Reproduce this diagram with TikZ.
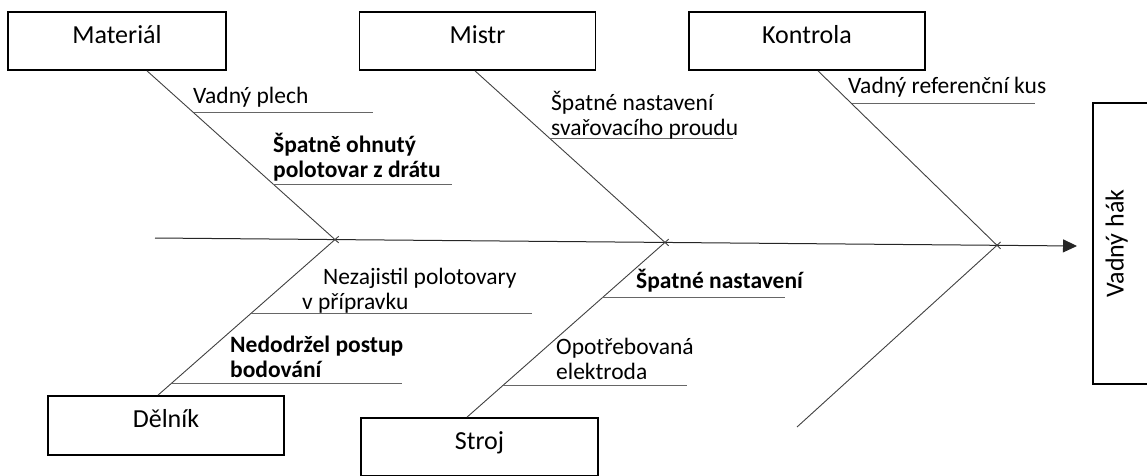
\documentclass[tikz,border=0pt]{standalone}
\usepackage{fontspec}
\setmainfont{Carlito}
\usetikzlibrary{arrows.meta,calc}
\begin{document}
\begin{tikzpicture}[x=1pt,y=-1pt,
  cat/.style={draw=black, line width=1.7pt, minimum width=236pt, minimum height=58pt,
    inner sep=0pt, font=\fontsize{26}{30}\selectfont, text height=14pt, text depth=10pt},
  bone/.style={draw=black!75, line width=0.9pt, shorten >=-5pt},
  spine/.style={draw=black!85, line width=1pt},
  sub/.style={draw=black!60, line width=1.3pt},
  cause/.style={anchor=base west, inner sep=0pt, align=left, font=\fontsize{23.5}{25}\selectfont},
  key/.style={cause, font=\fontsize{23.5}{25}\selectfont\bfseries},
]
\useasboundingbox (0,0) rectangle (1147,475);
\clip (0,0) rectangle (1147,475);

% category boxes
\node[cat, minimum width=218pt] (mat) at (117,41) {Materiál};
\node[cat] (mis) at (477.5,41) {Mistr};
\node[cat] (kon) at (807,41) {Kontrola};
\node[cat, minimum height=59pt] (del) at (166,425.5) {Dělník};
\node[cat, minimum width=237pt] (str) at (479.5,447) {Stroj};
\node[cat, minimum width=281pt, minimum height=57pt, rotate=90] (vh) at (1121.5,243.5) {Vadný hák};

% spine with arrow head
\coordinate (tail) at (155,238);
\coordinate (head) at (1077,246);
\draw[spine, -{Triangle[length=14pt,width=13pt]}] (tail) -- (head);
\coordinate (J1) at ($(tail)!0.1952!(head)$);
\coordinate (J2) at ($(tail)!0.5531!(head)$);
\coordinate (J3) at ($(tail)!0.9132!(head)$);

% main bones
\coordinate (matB) at ([xshift=30pt]mat.south);
\coordinate (misB) at ([xshift=-2.5pt]mis.south);
\coordinate (konB) at ([xshift=11pt]kon.south);
\coordinate (delB) at ([xshift=-8pt]del.north);
\coordinate (strB) at ([xshift=-12.5pt]str.north);
\coordinate (loose) at (797,427);
\draw[bone] (matB) -- (J1);
\draw[bone] (misB) -- (J2);
\draw[bone] (konB) -- (J3);
\draw[bone] (delB) -- (J1);
\draw[bone] (strB) -- (J2);
\draw[bone] (loose) -- (J3);

% cause lines
\draw[sub] ($(matB)!0.248!(J1)$) -- ++(179,0);
\draw[sub] ($(matB)!0.672!(J1)$) -- ++(179,0);
\draw[sub] ($(misB)!0.394!(J2)$) -- ++(183,0);
\draw[sub] ($(konB)!0.188!(J3)$) -- ++(183,0);
\draw[sub] ($(delB)!0.524!(J1)$) -- ++(281,0);
\draw[sub] ($(delB)!0.0767!(J1)$) -- ++(230,0);
\draw[sub] ($(strB)!0.683!(J2)$) -- ++(183,0);
\draw[sub] ($(strB)!0.182!(J2)$) -- ++(184,0);

% cause texts (multi-line nodes sit on their last baseline)
\node[cause] (c1) at (193,103) {Vadný plech};
\node[key] (c2) at (273,177) {Špatně ohnutý\\polotovar z drátu};
\node[cause] (c3) at (551,135) {Špatné nastavení\\svařovacího proudu};
\node[cause] (c4) at (848,93) {Vadný referenční kus};
\node[cause] (c5) at (302,309) {\hspace*{21pt}Nezajistil polotovary\\v přípravku};
\node[key] (c6) at (230,377) {Nedodržel postup\\bodování};
\node[key] (c7) at (636,288) {Špatné nastavení};
\node[cause] (c8) at (556,379) {Opotřebovaná\\elektroda};
\end{tikzpicture}
\end{document}
